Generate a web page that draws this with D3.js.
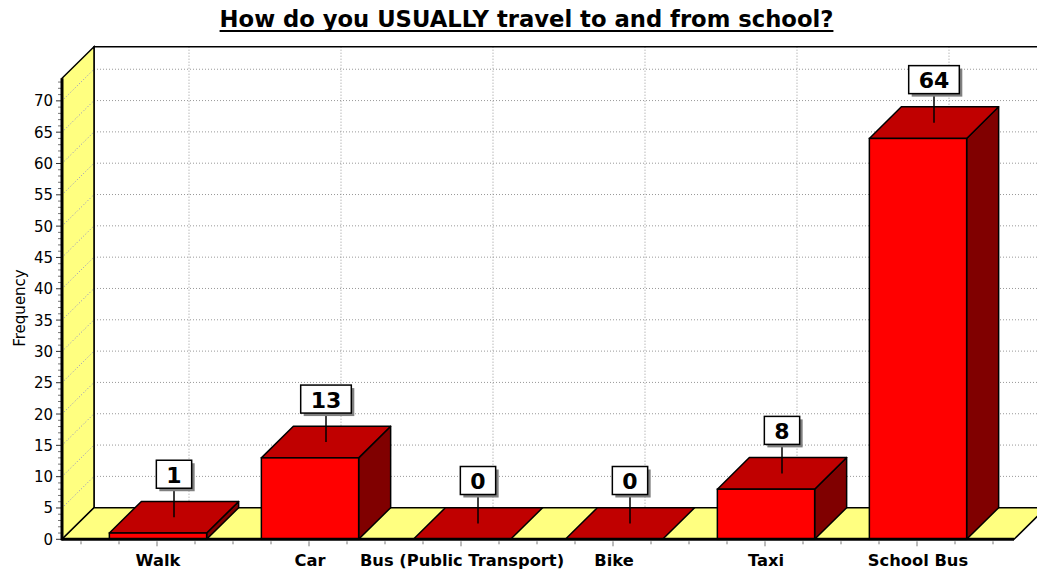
<!DOCTYPE html>
<html>
<head>
<meta charset="utf-8">
<script src="https://cdn.jsdelivr.net/npm/d3@7"></script>
<style>
  body { margin: 0; background: #fff; }
  svg { display: block; }
</style>
</head>
<body>
<script>
// chart data
const categories = ["Walk", "Car", "Bus (Public Transport)", "Bike", "Taxi", "School Bus"];
const counts = [1, 13, 0, 0, 8, 64];
const yTicks = [0, 5, 10, 15, 20, 25, 30, 35, 40, 45, 50, 55, 60, 65, 70];
const yMax = 73.6;

const width = 1037, height = 571;
const font = "'DejaVu Sans', Verdana, sans-serif";

// floor front edge and depth offset of the 3d box
const left = 62, right = 1014, base = 539.3;
const dx = 32, dy = 31.6;

const svg = d3.select("body").append("svg")
    .attr("width", width)
    .attr("height", height);

const y = d3.scaleLinear().domain([0, yMax]).range([base, 78.3]);
const x = d3.scaleBand().domain(categories).range([81, 993]).padding(0);
const barW = x.bandwidth() * 0.64;
const barX = c => x(c) + (x.bandwidth() - barW) / 2 + 1;

const pts = p => p.map(d => d.join(",")).join(" ");

// back wall
svg.append("rect")
    .attr("x", left + dx).attr("y", y(yMax) - dy)
    .attr("width", right - left).attr("height", base - y(yMax))
    .attr("fill", "#fff");

// horizontal grid on the back wall
svg.append("g").selectAll("line")
    .data(yTicks.filter(t => t > 0))
    .join("line")
    .attr("x1", left + dx).attr("x2", right + dx)
    .attr("y1", d => y(d) - dy).attr("y2", d => y(d) - dy)
    .attr("stroke", "#999").attr("stroke-dasharray", "1,2");

// vertical grid on the back wall
svg.append("g").selectAll("line")
    .data(categories)
    .join("line")
    .attr("x1", d => x(d) + x.bandwidth() / 2 + dx)
    .attr("x2", d => x(d) + x.bandwidth() / 2 + dx)
    .attr("y1", y(yMax) - dy).attr("y2", base - dy)
    .attr("stroke", "#999").attr("stroke-dasharray", "1,2");

// back wall border
svg.append("path")
    .attr("d", `M${left + dx},${base - dy}V${y(yMax) - dy}H${right + dx + 10}`)
    .attr("fill", "none").attr("stroke", "#000").attr("stroke-width", 1.5);

// left wall
svg.append("polygon")
    .attr("points", pts([[left, base], [left, y(yMax)], [left + dx, y(yMax) - dy], [left + dx, base - dy]]))
    .attr("fill", "#ffff80").attr("stroke", "#000").attr("stroke-width", 1.5);

svg.append("g").selectAll("line")
    .data(yTicks.filter(t => t > 0))
    .join("line")
    .attr("x1", left).attr("x2", left + dx)
    .attr("y1", d => y(d)).attr("y2", d => y(d) - dy)
    .attr("stroke", "#8c8cc8").attr("stroke-dasharray", "1,2");

// floor
svg.append("polygon")
    .attr("points", pts([[left, base], [right, base], [right + dx, base - dy], [left + dx, base - dy]]))
    .attr("fill", "#ffff80").attr("stroke", "#000").attr("stroke-width", 1.5);

// bars
const bars = svg.append("g").selectAll("g")
    .data(categories.map((c, i) => ({ cat: c, value: counts[i] })))
    .join("g");

bars.filter(d => d.value > 0).append("polygon")
    .attr("points", d => {
        const bx = barX(d.cat), yv = y(d.value);
        return pts([[bx + barW, yv], [bx + barW, base], [bx + barW + dx, base - dy], [bx + barW + dx, yv - dy]]);
    })
    .attr("fill", "#800000").attr("stroke", "#000").attr("stroke-width", 1.5).attr("stroke-linejoin", "round");

bars.append("polygon")
    .attr("points", d => {
        const bx = barX(d.cat), yv = y(d.value);
        return pts([[bx, yv], [bx + barW, yv], [bx + barW + dx, yv - dy], [bx + dx, yv - dy]]);
    })
    .attr("fill", "#c00000").attr("stroke", "#000").attr("stroke-width", 1.5).attr("stroke-linejoin", "round");

bars.filter(d => d.value > 0).append("rect")
    .attr("x", d => barX(d.cat))
    .attr("y", d => y(d.value))
    .attr("width", barW)
    .attr("height", d => base - y(d.value))
    .attr("fill", "#ff0000").attr("stroke", "#000").attr("stroke-width", 1.5);

// value labels with leader line
bars.each(function(d) {
    const g = d3.select(this);
    const cx = barX(d.cat) + barW / 2 + dx / 2;
    const cy = y(d.value) - dy / 2;
    const boxBottom = cy - 29;
    g.append("line")
        .attr("x1", cx).attr("x2", cx)
        .attr("y1", cy).attr("y2", boxBottom)
        .attr("stroke", "#000").attr("stroke-width", 1.5);
    const t = g.append("text")
        .attr("x", cx).attr("y", boxBottom - 5.5)
        .attr("text-anchor", "middle")
        .style("font", `bold 22px ${font}`)
        .text(d.value);
    const tw = t.node().getComputedTextLength() + 20;
    g.insert("rect", "text")
        .attr("x", cx - tw / 2 + 3).attr("y", boxBottom - 28 + 3)
        .attr("width", tw).attr("height", 28)
        .attr("fill", "#808080");
    g.insert("rect", "text")
        .attr("x", cx - tw / 2).attr("y", boxBottom - 28)
        .attr("width", tw).attr("height", 28)
        .attr("fill", "#fff").attr("stroke", "#000").attr("stroke-width", 1.5);
});

// y axis with minor ticks
const yAxis = svg.append("g");
yAxis.selectAll("line")
    .data(d3.range(0, Math.floor(yMax) + 1))
    .join("line")
    .attr("x1", d => d % 5 === 0 ? left - 6 : left - 4).attr("x2", left)
    .attr("y1", d => y(d)).attr("y2", d => y(d))
    .attr("stroke", d => d % 5 === 0 ? "#333" : "#777");
yAxis.selectAll("text")
    .data(yTicks)
    .join("text")
    .attr("x", left - 9).attr("y", d => y(d) + 5.5)
    .attr("text-anchor", "end")
    .style("font", `15px ${font}`)
    .text(d => d);
yAxis.append("line")
    .attr("x1", left).attr("x2", left)
    .attr("y1", y(yMax)).attr("y2", base + 1)
    .attr("stroke", "#000").attr("stroke-width", 3);

// x axis ticks at quarter bands
const xTicks = d3.range(0, categories.length * 4 + 1).map(i => 81 + i * x.bandwidth() / 4);
svg.append("g").selectAll("line")
    .data(xTicks)
    .join("line")
    .attr("x1", d => d).attr("x2", d => d)
    .attr("y1", base + 2)
    .attr("y2", (d, i) => i % 4 === 2 ? base + 7 : base + 5)
    .attr("stroke", "#777");
svg.append("line")
    .attr("x1", left).attr("x2", right)
    .attr("y1", base).attr("y2", base)
    .attr("stroke", "#000").attr("stroke-width", 3);

svg.append("g").selectAll("text")
    .data(categories)
    .join("text")
    .attr("x", d => x(d) + x.bandwidth() / 2 + 1)
    .attr("y", 566)
    .attr("text-anchor", "middle")
    .style("font", `bold 16.3px ${font}`)
    .text(d => d);

// axis title
svg.append("text")
    .attr("transform", "translate(25,308) rotate(-90)")
    .attr("text-anchor", "middle")
    .style("font", `15px ${font}`)
    .text("Frequency");

// chart title, underlined
const title = svg.append("text")
    .attr("x", 526.5).attr("y", 27)
    .attr("text-anchor", "middle")
    .style("font", `bold 22.7px ${font}`)
    .text("How do you USUALLY travel to and from school?");
const tl = title.node().getComputedTextLength();
svg.append("line")
    .attr("x1", 526.5 - tl / 2).attr("x2", 526.5 + tl / 2)
    .attr("y1", 31).attr("y2", 31)
    .attr("stroke", "#000").attr("stroke-width", 2);
</script>
</body>
</html>
